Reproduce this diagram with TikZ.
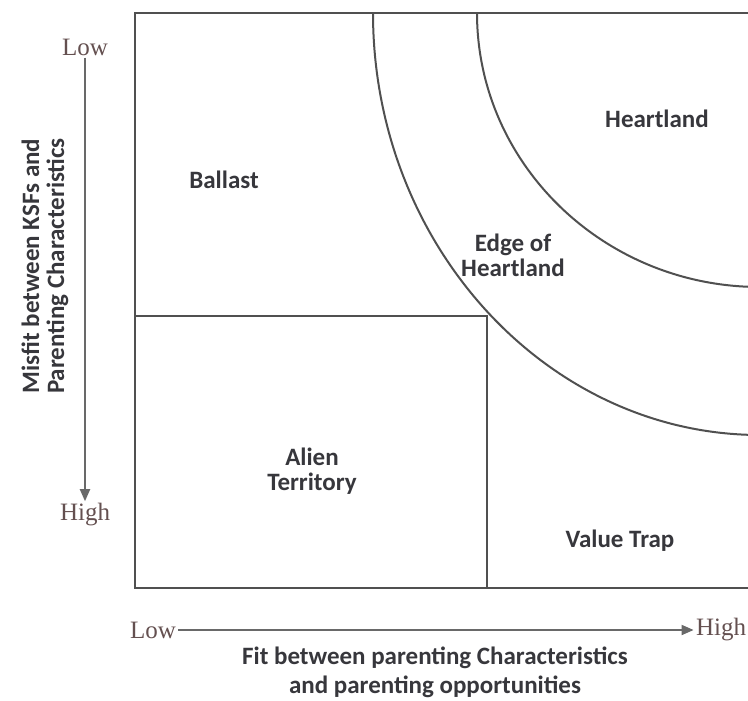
\documentclass[tikz,border=0pt]{standalone}
\usepackage{fontspec}
\setmainfont{Liberation Serif}
\newfontfamily\labelfont{Carlito}
\usepackage{xcolor}
\definecolor{linegray}{RGB}{80,80,80}
\definecolor{axisgray}{RGB}{105,105,105}
\definecolor{scaletext}{RGB}{100,80,80}
\definecolor{regiontext}{RGB}{55,55,60}
\usetikzlibrary{arrows.meta}

\begin{document}
\begin{tikzpicture}[x=0.5pt, y=-0.5pt,
        region/.style={font=\labelfont\bfseries\fontsize{12.5}{12.5}\selectfont, text=regiontext, align=center},
        scaletag/.style={font=\fontsize{12.5}{15}\selectfont, text=scaletext, inner sep=1pt},
        frame/.style={draw=linegray, line width=1pt},
        axis/.style={draw=axisgray, line width=0.9pt, -{Triangle[length=6pt,width=5pt]}}]
    \useasboundingbox (0,0) rectangle (748,700);

    % matrix frame
    \draw[frame] (748,13) -- (135,13) -- (135,588) -- (748,588);
    \draw[frame] (135,316) -- (487,316) -- (487,588);

    % heartland bands
    \draw[frame] (373,13) .. controls (373,245) and (547,435) .. (760,435);
    \draw[frame] (477,13) .. controls (477,164) and (604,287) .. (760,287);

    % regions
    \node[region] at (224,180) (ballast) {Ballast};
    \node[region] at (657,119) (heart) {Heartland};
    \node[region] at (513,255) (edge) {Edge of\\Heartland};
    \node[region] at (312,471) (alien) {Alien\\Territory};
    \node[region] at (620,541) (trap) {Value Trap};

    % vertical scale
    \node[scaletag] at (85,47) (lowy) {Low};
    \node[scaletag] at (85,515) (highy) {High};
    \draw[axis] (lowy) -- (highy);
    \node[region, rotate=90] at (45,266) (ylab) {Misfit between KSFs and\\Parenting Characteristics};

    % horizontal scale
    \node[scaletag] at (153,630) (lowx) {Low};
    \node[scaletag] at (721,630) (highx) {High};
    \draw[axis] (lowx) -- (highx);
    \node[region] at (435,672) (xlab) {Fit between parenting Characteristics\\[2pt]and parenting opportunities};
\end{tikzpicture}
\end{document}
